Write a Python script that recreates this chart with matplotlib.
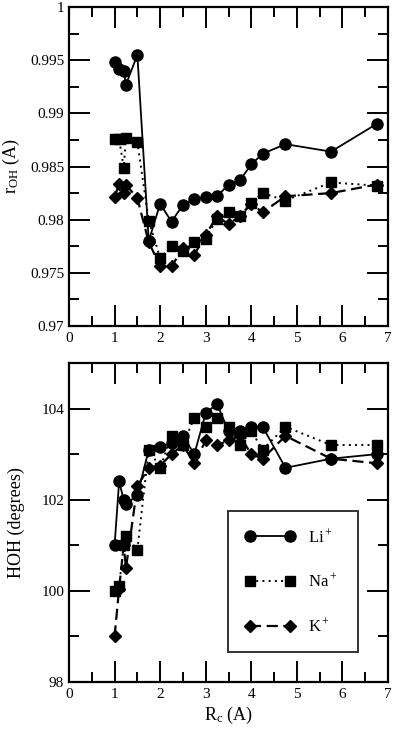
import matplotlib
matplotlib.use("Agg")
import matplotlib.pyplot as plt
from matplotlib.ticker import MultipleLocator

plt.rcParams['font.family'] = ['Liberation Serif', 'DejaVu Serif']
plt.rcParams['mathtext.fontset'] = 'custom'
plt.rcParams['mathtext.rm'] = 'Liberation Serif'
plt.rcParams['mathtext.it'] = 'Liberation Serif:italic'

rc = [1.0, 1.1, 1.2, 1.25, 1.5, 1.75, 2.0, 2.25, 2.5, 2.75, 3.0, 3.25, 3.5,
      3.75, 4.0, 4.25, 4.75, 5.75, 6.75]

roh_li = [0.9948, 0.9942, 0.9940, 0.9927, 0.9955, 0.9780, 0.9815, 0.9798,
          0.9814, 0.9819, 0.9821, 0.9822, 0.9833, 0.9837, 0.9852, 0.9862,
          0.9871, 0.9864, 0.9890]
roh_na = [0.9876, 0.9876, 0.9849, 0.9877, 0.9873, 0.9799, 0.9764, 0.9775,
          0.9771, 0.9779, 0.9782, 0.9801, 0.9807, 0.9803, 0.9816, 0.9825,
          0.9818, 0.9835, 0.9832]
roh_k = [0.9821, 0.9834, 0.9825, 0.9833, 0.9820, 0.9779, 0.9756, 0.9756,
         0.9773, 0.9767, 0.9786, 0.9803, 0.9796, 0.9803, 0.9815, 0.9807,
         0.9822, 0.9825, 0.9833]

hoh_li = [101.0, 102.4, 102.0, 101.9, 102.1, 103.1, 103.15, 103.25, 103.4,
          103.0, 103.9, 104.1, 103.5, 103.5, 103.6, 103.6, 102.7, 102.9,
          103.0]
hoh_na = [100.0, 100.1, 101.0, 101.2, 100.9, 103.1, 102.7, 103.4, 103.2,
          103.8, 103.6, 103.8, 103.6, 103.2, 103.5, 103.1, 103.6, 103.2,
          103.2]
hoh_k = [99.0, 100.05, 101.0, 100.5, 102.3, 102.7, 102.75, 103.0, 103.2,
         102.8, 103.3, 103.2, 103.3, 103.4, 103.0, 102.9, 103.4, 102.9,
         102.8]

labels = ['Li$^+$', 'Na$^+$', 'K$^+$']

W, H = 393, 731
fig = plt.figure(figsize=(W / 100, H / 100), dpi=100)

def ax_rect(l, t, r, b):
    return [l / W, 1 - b / H, (r - l) / W, (b - t) / H]

ax1 = fig.add_axes(ax_rect(69, 7, 388, 326))
ax2 = fig.add_axes(ax_rect(69, 363, 388, 682))

styles = [
    dict(marker='o', ms=8, ls='-', lw=1.3),
    dict(marker='s', ms=6.8, ls=(0, (1, 2.2)), lw=1.4),
    dict(marker='D', ms=6.2, ls=(0, (5, 2.5)), lw=1.6),
]

for ax, series in [(ax1, [roh_li, roh_na, roh_k]), (ax2, [hoh_li, hoh_na, hoh_k])]:
    for y, st, lab in zip(series, styles, labels):
        ax.plot(rc, y, color='black', mfc='black', mec='black', label=lab, **st)
    ax.set_xlim(0, 7)
    ax.xaxis.set_major_locator(MultipleLocator(1))
    ax.xaxis.set_minor_locator(MultipleLocator(0.5))
    ax.tick_params(which='both', direction='in', top=True, right=True,
                   width=1.4, labelsize=11, colors='black')
    ax.tick_params(which='major', length=15)
    ax.tick_params(which='minor', length=7)
    ax.tick_params(axis='x', pad=4)
    for s in ax.spines.values():
        s.set_linewidth(1.6)

ax1.set_ylim(0.97, 1.0)
ax1.yaxis.set_major_locator(MultipleLocator(0.005))
ax1.yaxis.set_minor_locator(MultipleLocator(0.0025))
ax1.set_yticks([0.97, 0.975, 0.98, 0.985, 0.99, 0.995, 1.0])
ax1.set_yticklabels(['0.97', '0.975', '0.98', '0.985', '0.99', '0.995', '1'])
ax1.set_ylabel('r$_{\\rm OH}$ (A)', fontsize=13, labelpad=6)

ax2.set_ylim(98, 105)
ax2.yaxis.set_major_locator(MultipleLocator(2))
ax2.yaxis.set_minor_locator(MultipleLocator(1))
ax2.set_ylabel('HOH (degrees)', fontsize=13, labelpad=12)
ax2.set_xlabel('R$_{\\rm c}$ (A)', fontsize=13, labelpad=3)

leg = ax2.legend(loc='lower left', bbox_to_anchor=((228 - 69) / 319, (682 - 652) / 319,
                                                     (358 - 228) / 319, (652 - 523) / 319),
                 mode='expand', frameon=True, fancybox=False, fontsize=12,
                 numpoints=2, handlelength=3.0, labelspacing=1.6, borderpad=1.0,
                 handletextpad=0.8, borderaxespad=0)
leg.get_frame().set_edgecolor('black')
leg.get_frame().set_linewidth(1.4)

fig.savefig('out.png', dpi=100)
